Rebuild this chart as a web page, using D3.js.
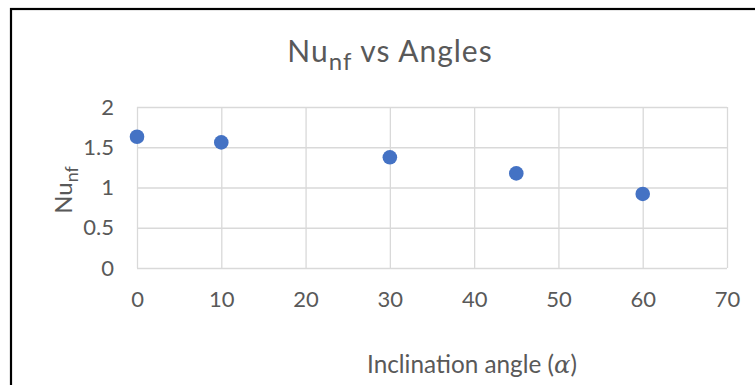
<!DOCTYPE html>
<html>
<head>
<meta charset="utf-8">
<script src="https://cdn.jsdelivr.net/npm/d3@7"></script>
<style>
  body { margin: 0; background: #fff; }
  svg text { font-family: Lato, "Open Sans", sans-serif; fill: #595959; }
</style>
</head>
<body>
<svg></svg>
<script>
const width = 755;
const height = 385;

// data
const angles = [0, 10, 30, 45, 60];
const nuValues = [1.63, 1.56, 1.375, 1.175, 0.92];
const xTicks = [0, 10, 20, 30, 40, 50, 60, 70];
const yTicks = [0, 0.5, 1, 1.5, 2];

const plot = { left: 137, right: 727, top: 107, bottom: 268 };

const svg = d3.select("svg")
    .attr("width", width)
    .attr("height", height);

svg.append("rect")
    .attr("x", 11)
    .attr("y", 9)
    .attr("width", width + 20)
    .attr("height", height + 20)
    .attr("fill", "#fff")
    .attr("stroke", "#000")
    .attr("stroke-width", 2.2);

const xScale = d3.scaleLinear()
    .domain([0, 70])
    .range([plot.left, plot.right]);

const yScale = d3.scaleLinear()
    .domain([0, 2])
    .range([plot.bottom, plot.top]);

const xAxis = d3.axisBottom(xScale)
    .tickValues(xTicks)
    .tickSize(-(plot.bottom - plot.top))
    .tickPadding(23)
    .tickFormat(d3.format("d"));

const yAxis = d3.axisLeft(yScale)
    .tickValues(yTicks)
    .tickSize(-(plot.right - plot.left))
    .tickPadding(23)
    .tickFormat(d => String(d));

const gx = svg.append("g")
    .attr("transform", `translate(0, ${plot.bottom})`)
    .call(xAxis);

const gy = svg.append("g")
    .attr("transform", `translate(${plot.left}, 0)`)
    .call(yAxis);

[gx, gy].forEach(g => {
    g.select(".domain").remove();
    g.selectAll(".tick line").attr("stroke", "#d9d9d9").attr("stroke-width", 1.3);
    g.selectAll(".tick text").attr("font-size", 22).attr("font-family", "Lato").attr("fill", "#595959");
});

svg.selectAll(".dot")
    .data(angles)
    .enter()
    .append("circle")
    .attr("class", "dot")
    .attr("cx", d => xScale(d))
    .attr("cy", (d, i) => yScale(nuValues[i]))
    .attr("r", 7.3)
    .attr("fill", "#4472C4");

// title
const title = svg.append("text")
    .attr("x", 390)
    .attr("y", 62)
    .attr("text-anchor", "middle")
    .attr("font-size", 30)
    .attr("letter-spacing", 1);
title.append("tspan").text("Nu");
title.append("tspan").attr("dy", 8).attr("font-size", 24).text("nf");
title.append("tspan").attr("dy", -8).text(" vs Angles");

// y axis title
const yTitle = svg.append("text")
    .attr("transform", "translate(72, 190) rotate(-90)")
    .attr("text-anchor", "middle")
    .attr("font-size", 24);
yTitle.append("tspan").text("Nu");
yTitle.append("tspan").attr("dy", 6).attr("font-size", 18).text("nf");

// x axis title
const xTitle = svg.append("text")
    .attr("x", 472)
    .attr("y", 373)
    .attr("text-anchor", "middle")
    .attr("font-size", 24.3);
xTitle.append("tspan").text("Inclination angle (");
xTitle.append("tspan").attr("font-style", "italic").attr("font-family", "DejaVu Serif").text("α");
xTitle.append("tspan").text(")");
</script>
</body>
</html>
